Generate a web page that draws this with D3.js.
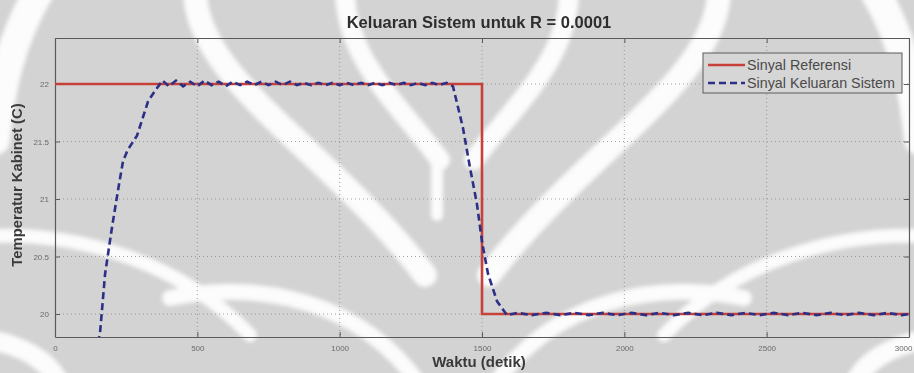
<!DOCTYPE html>
<html>
<head>
<meta charset="utf-8">
<script src="https://cdn.jsdelivr.net/npm/d3@7"></script>
<style>
  body { margin: 0; background: #d3d3d3; }
  svg { display: block; }
  text { font-family: "Liberation Sans", Arial, sans-serif; }
</style>
</head>
<body>
<div id="chart"></div>
<script>
// step reference (setpoint) signal
var refTime = [0, 1500, 1500, 3000];
var refTemp = [22, 22, 20, 20];

// system output
var outTime = [150, 158, 176, 200, 221, 239, 256, 288, 327, 351, 378,
  400, 425, 450, 475, 500, 525, 550, 575, 600, 625, 650, 675, 700, 725, 750, 775,
  800, 825, 850, 875, 900, 925, 950, 975, 1000, 1025, 1050, 1075, 1100, 1125, 1150,
  1175, 1200, 1225, 1250, 1275, 1300, 1325, 1350, 1375, 1398,
  1433, 1458, 1482, 1500, 1521, 1553, 1588,
  1625, 1675, 1725, 1775, 1825, 1875, 1925, 1975, 2025, 2075, 2125, 2175, 2225,
  2275, 2325, 2375, 2425, 2475, 2525, 2575, 2625, 2675, 2725, 2775, 2825, 2875,
  2925, 2975, 3000];
var outTemp = [19.75, 19.83, 20.35, 20.75, 21.07, 21.33, 21.43, 21.55, 21.85, 21.94, 22.03,
  21.98, 22.03, 21.98, 22.02, 21.98, 22.03, 21.99, 22.02, 21.98, 22.02, 21.99, 22.02, 21.99, 22.02, 21.99, 22.02,
  21.99, 22.02, 21.99, 22.01, 21.99, 22.01, 21.99, 22.01, 21.99, 22.01, 21.99, 22.01, 21.99, 22.01, 21.99,
  22.01, 21.99, 22.01, 21.99, 22.01, 21.99, 22.01, 21.99, 22.01, 21.98,
  21.62, 21.27, 20.96, 20.63, 20.35, 20.11, 19.99,
  20.01, 19.99, 20.01, 19.99, 20.01, 19.99, 20.01, 19.99, 20.01, 19.99, 20.01, 19.99, 20.01,
  19.99, 20.01, 19.99, 20.01, 19.99, 20.01, 19.99, 20.01, 19.99, 20.01, 19.99, 20.01, 19.99,
  20.01, 19.99, 20.0];

var xTicks = [0, 500, 1000, 1500, 2000, 2500, 3000];
var xTickLabels = ['0', '500', '1000', '1500', '2000', '2500', '3000'];
var yTicks = [20, 20.5, 21, 21.5, 22];
var yTickLabels = ['20', '20.5', '21', '21.5', '22'];
var legendNames = ['Sinyal Referensi', 'Sinyal Keluaran Sistem'];

var W = 914, H = 373;
var margin = {top: 38, right: 5, bottom: 36, left: 55};
var w = W - margin.left - margin.right,
    h = H - margin.top - margin.bottom;

var svg = d3.select('#chart').append('svg')
  .attr('width', W)
  .attr('height', H);

var defs = svg.append('defs');
defs.append('filter').attr('id', 'soft')
  .append('feGaussianBlur').attr('stdDeviation', 2);
defs.append('clipPath').attr('id', 'plotclip')
  .append('rect').attr('width', w).attr('height', h);

// faint watermark in the background (the logo behind the figure)
var mark = svg.append('g')
  .attr('fill', 'none')
  .attr('stroke', '#ffffff')
  .attr('stroke-linecap', 'round')
  .attr('filter', 'url(#soft)')
  .attr('opacity', 0.92);
var markPaths = [
  ['M195,-10 C195,80 330,150 425,275', 24],
  ['M345,-10 C345,60 400,105 440,160', 20],
  ['M-10,236 C80,232 180,262 250,335', 14],
  ['M170,298 C260,280 360,300 420,385', 16],
  ['M40,-10 C10,40 0,90 -5,140', 30],
  ['M-10,340 C20,345 50,360 60,385', 20]
];
markPaths.forEach(function(p) {
  mark.append('path').attr('d', p[0]).attr('stroke-width', p[1]);
  mark.append('path').attr('d', p[0]).attr('stroke-width', p[1])
    .attr('transform', 'translate(914,0) scale(-1,1)');
});
mark.append('path').attr('d', 'M437,160 L437,215').attr('stroke-width', 12);

var g = svg.append('g')
  .attr('transform', 'translate(' + margin.left + ',' + margin.top + ')');

var x = d3.scaleLinear().domain([0, 3000]).range([0, w]);
var y = d3.scaleLinear().domain([19.8, 22.4]).range([h, 0]);

// dotted grid
g.append('g').selectAll('line').data(xTicks.slice(1, -1)).enter().append('line')
  .attr('x1', function(d) { return x(d); })
  .attr('x2', function(d) { return x(d); })
  .attr('y1', 0).attr('y2', h)
  .attr('stroke', '#8a8a8a').attr('stroke-width', 0.8)
  .attr('stroke-dasharray', '1,3');
g.append('g').selectAll('line').data(yTicks).enter().append('line')
  .attr('y1', function(d) { return y(d); })
  .attr('y2', function(d) { return y(d); })
  .attr('x1', 0).attr('x2', w)
  .attr('stroke', '#8a8a8a').attr('stroke-width', 0.8)
  .attr('stroke-dasharray', '1,3');

// axes, ticks pointing inward like matlab
var xAxis = g.append('g').attr('transform', 'translate(0,' + h + ')')
  .call(d3.axisBottom(x).tickValues(xTicks)
    .tickFormat(function(d, i) { return xTickLabels[i]; })
    .tickSizeInner(-5).tickSizeOuter(0).tickPadding(8));
var yAxis = g.append('g')
  .call(d3.axisLeft(y).tickValues(yTicks)
    .tickFormat(function(d, i) { return yTickLabels[i]; })
    .tickSizeInner(-5).tickSizeOuter(0).tickPadding(6));
g.append('g')
  .call(d3.axisTop(x).tickValues(xTicks).tickFormat('').tickSizeInner(-5).tickSizeOuter(0));
g.append('g').attr('transform', 'translate(' + w + ',0)')
  .call(d3.axisRight(y).tickValues(yTicks).tickFormat('').tickSizeInner(-5).tickSizeOuter(0));

g.selectAll('.domain').attr('stroke', '#5a5a5a').attr('stroke-width', 1.2);
g.selectAll('.tick line').attr('stroke', '#5a5a5a');
g.selectAll('.tick text').attr('fill', '#6a6a6a').style('font-size', '8px');
// last x label would run off the page edge
xAxis.selectAll('.tick text').filter(function(d) { return d === 3000; })
  .attr('text-anchor', 'end').attr('dx', 3);

var lines = g.append('g').attr('clip-path', 'url(#plotclip)');

var line = d3.line()
  .x(function(d) { return x(d[0]); })
  .y(function(d) { return y(d[1]); });

lines.append('path')
  .datum(d3.zip(refTime, refTemp))
  .attr('d', line)
  .attr('fill', 'none')
  .attr('stroke', '#c8403a')
  .attr('stroke-width', 2.6);

lines.append('path')
  .datum(d3.zip(outTime, outTemp))
  .attr('d', line)
  .attr('fill', 'none')
  .attr('stroke', '#2c2f86')
  .attr('stroke-width', 2.6)
  .attr('stroke-dasharray', '7,4');

// legend
var leg = g.append('g').attr('transform', 'translate(' + (703 - margin.left) + ',' + (53 - margin.top) + ')');
leg.append('rect')
  .attr('width', 199).attr('height', 40)
  .attr('fill', '#d6d6d6').attr('stroke', '#5a5a5a').attr('stroke-width', 1);
var legColors = ['#c8403a', '#2c2f86'];
var legDash = [null, '7,4'];
legendNames.forEach(function(name, i) {
  var ly = 12 + i * 18;
  leg.append('line')
    .attr('x1', 5).attr('x2', 42).attr('y1', ly).attr('y2', ly)
    .attr('stroke', legColors[i]).attr('stroke-width', 2.6)
    .attr('stroke-dasharray', legDash[i]);
  leg.append('text')
    .attr('x', 44).attr('y', ly + 5)
    .attr('fill', '#4a4a4a')
    .style('font-size', '14.3px')
    .text(name);
});

// titles
svg.append('text')
  .attr('x', 479).attr('y', 28)
  .attr('text-anchor', 'middle')
  .attr('fill', '#2e2e2e')
  .style('font-size', '16.5px').style('font-weight', 'bold')
  .text('Keluaran Sistem untuk R = 0.0001');

svg.append('text')
  .attr('transform', 'translate(22,' + 185 + ') rotate(-90)')
  .attr('text-anchor', 'middle')
  .attr('fill', '#3a3a3a')
  .style('font-size', '14.8px').style('font-weight', 'bold')
  .text('Temperatur Kabinet (C)');

svg.append('text')
  .attr('x', 479).attr('y', 367)
  .attr('text-anchor', 'middle')
  .attr('fill', '#3a3a3a')
  .style('font-size', '15px').style('font-weight', 'bold')
  .text('Waktu (detik)');
</script>
</body>
</html>
